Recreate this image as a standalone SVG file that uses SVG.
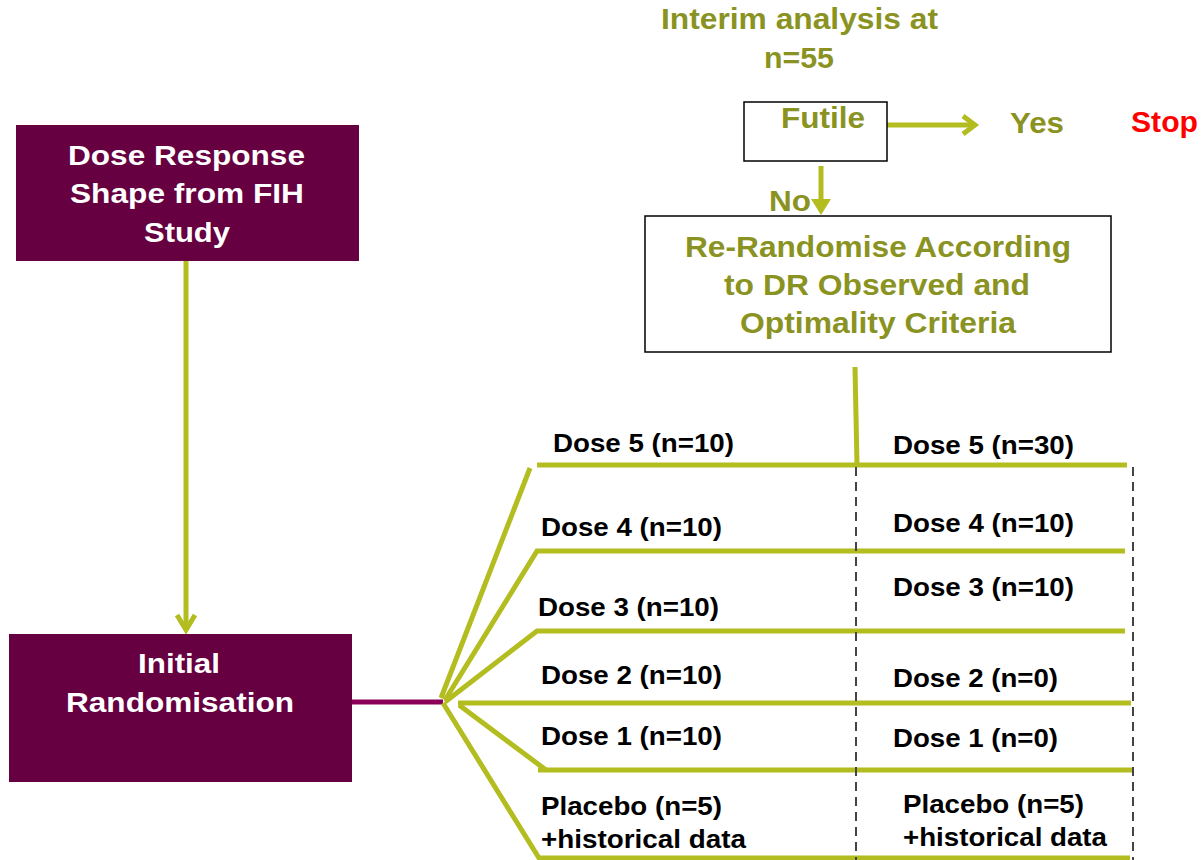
<svg xmlns="http://www.w3.org/2000/svg" width="1204" height="860" viewBox="0 0 1204 860">
<style>
text{font-family:"Liberation Sans",Arial,sans-serif;font-weight:bold}
.w{fill:#ffffff;font-size:28px}
.o{fill:#8a9322;font-size:29px}
.k{fill:#000000;font-size:26px}
.g{stroke:#b3bd20;stroke-width:5;fill:none}
.d{stroke:#444;stroke-width:2;stroke-dasharray:9 6;fill:none}
</style>
<rect width="1204" height="860" fill="#ffffff"/>
<g id="connectors">
<line class="g" x1="186" y1="256" x2="186" y2="629"/>
<polyline class="g" points="177,615 186,630 195,615"/>
<line x1="352" y1="702" x2="443" y2="702" stroke="#8a0057" stroke-width="5"/>
<line class="g" x1="887" y1="125" x2="975" y2="125"/>
<polyline class="g" points="963,116 975,125 963,134"/>
<line class="g" x1="821" y1="166" x2="821" y2="203"/>
<polygon points="811,199 831,199 821,215" fill="#b3bd20"/>
<line class="g" x1="855" y1="367" x2="857" y2="465"/>
<line class="g" x1="530" y1="468" x2="441" y2="698"/>
<line class="g" x1="537" y1="465" x2="1127" y2="465"/>
<polyline class="g" points="445,700 537,551 1125,551"/>
<polyline class="g" points="445,702 537,631 1125,631"/>
<line class="g" x1="458" y1="703" x2="1131" y2="703"/>
<line class="g" x1="459" y1="705" x2="546" y2="770"/>
<line class="g" x1="538" y1="770" x2="1133" y2="770"/>
<polyline class="g" points="443,703 539,858 1130,858"/>
<line class="d" x1="856" y1="467" x2="856" y2="860"/>
<line class="d" x1="1133" y1="467" x2="1133" y2="860"/>
</g>
<g id="dose-response">
<rect x="16" y="125" width="343" height="136" fill="#660040"/>
<text class="w" x="68" y="165" textLength="237" lengthAdjust="spacingAndGlyphs">Dose Response</text>
<text class="w" x="70" y="203" textLength="234" lengthAdjust="spacingAndGlyphs">Shape from FIH</text>
<text class="w" x="144" y="242" textLength="86" lengthAdjust="spacingAndGlyphs">Study</text>
</g>
<g id="initial-randomisation">
<rect x="9" y="634" width="343" height="148" fill="#660040"/>
<text class="w" x="138" y="673" textLength="82" lengthAdjust="spacingAndGlyphs">Initial</text>
<text class="w" x="66" y="712" textLength="228" lengthAdjust="spacingAndGlyphs">Randomisation</text>
</g>
<g id="interim">
<text class="o" x="661" y="29" textLength="277" lengthAdjust="spacingAndGlyphs">Interim analysis at</text>
<text class="o" x="764" y="68" textLength="70" lengthAdjust="spacingAndGlyphs">n=55</text>
</g>
<g id="futile">
<rect x="744" y="102" width="143" height="59" fill="none" stroke="#000" stroke-width="1.5"/>
<text class="o" x="781" y="128" textLength="84" lengthAdjust="spacingAndGlyphs">Futile</text>
</g>
<g id="yes"><text class="o" x="1010" y="133" textLength="54" lengthAdjust="spacingAndGlyphs">Yes</text></g>
<g id="stop"><text x="1131" y="132" font-size="29" fill="#ff0000" textLength="67" lengthAdjust="spacingAndGlyphs">Stop</text></g>
<g id="no"><text class="o" x="769" y="211" textLength="42" lengthAdjust="spacingAndGlyphs">No</text></g>
<g id="re-randomise">
<rect x="645" y="216" width="466" height="136" fill="none" stroke="#000" stroke-width="1.5"/>
<text class="o" x="685" y="257" textLength="386" lengthAdjust="spacingAndGlyphs">Re-Randomise According</text>
<text class="o" x="724" y="295" textLength="306" lengthAdjust="spacingAndGlyphs">to DR Observed and</text>
<text class="o" x="740" y="333" textLength="276" lengthAdjust="spacingAndGlyphs">Optimality Criteria</text>
</g>
<g id="initial-arms">
<text class="k" x="553" y="452" textLength="181" lengthAdjust="spacingAndGlyphs">Dose 5 (n=10)</text>
<text class="k" x="541" y="536" textLength="181" lengthAdjust="spacingAndGlyphs">Dose 4 (n=10)</text>
<text class="k" x="538" y="616" textLength="181" lengthAdjust="spacingAndGlyphs">Dose 3 (n=10)</text>
<text class="k" x="541" y="684" textLength="181" lengthAdjust="spacingAndGlyphs">Dose 2 (n=10)</text>
<text class="k" x="541" y="745" textLength="181" lengthAdjust="spacingAndGlyphs">Dose 1 (n=10)</text>
<text class="k" x="541" y="815" textLength="181" lengthAdjust="spacingAndGlyphs">Placebo (n=5)</text>
<text class="k" x="541" y="848" textLength="205" lengthAdjust="spacingAndGlyphs">+historical data</text>
</g>
<g id="rerandomised-arms">
<text class="k" x="893" y="454" textLength="181" lengthAdjust="spacingAndGlyphs">Dose 5 (n=30)</text>
<text class="k" x="893" y="532" textLength="181" lengthAdjust="spacingAndGlyphs">Dose 4 (n=10)</text>
<text class="k" x="893" y="596" textLength="181" lengthAdjust="spacingAndGlyphs">Dose 3 (n=10)</text>
<text class="k" x="893" y="687" textLength="165" lengthAdjust="spacingAndGlyphs">Dose 2 (n=0)</text>
<text class="k" x="893" y="747" textLength="165" lengthAdjust="spacingAndGlyphs">Dose 1 (n=0)</text>
<text class="k" x="903" y="813" textLength="181" lengthAdjust="spacingAndGlyphs">Placebo (n=5)</text>
<text class="k" x="903" y="846" textLength="204" lengthAdjust="spacingAndGlyphs">+historical data</text>
</g>
</svg>
